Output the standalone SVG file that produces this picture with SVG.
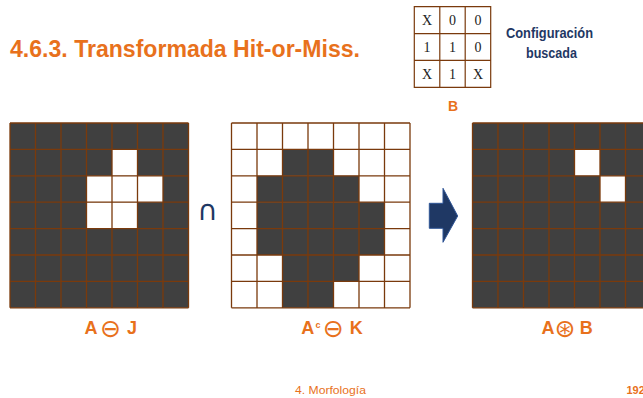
<svg xmlns="http://www.w3.org/2000/svg" xmlns:xlink="http://www.w3.org/1999/xlink" width="643" height="398" viewBox="0 0 643 398">
<style>
.or{fill:#e8711c;font-family:"Liberation Sans",Arial,sans-serif;font-weight:bold}
.nv{fill:#1f3864;font-family:"Liberation Sans",Arial,sans-serif;font-weight:bold}
.sym{font-family:"DejaVu Sans",sans-serif;font-weight:normal;font-size:25px}
.dk{fill:#404040}
.wh{fill:#ffffff}
.gl{fill:none;stroke:#7a3a0c;stroke-width:1.3}
.bt{fill:none;stroke:#7a3a0c;stroke-width:1.2}
.cell{font-family:"Liberation Serif","DejaVu Serif",serif;font-size:14px;fill:#222;text-anchor:middle}
</style>
<defs>
<path id="grid" class="gl" d="M0 0H178.5M0 26.4H178.5M0 52.8H178.5M0 79.2H178.5M0 105.6H178.5M0 132H178.5M0 158.4H178.5M0 184.8H178.5M0 0V184.8M25.5 0V184.8M51 0V184.8M76.5 0V184.8M102 0V184.8M127.5 0V184.8M153 0V184.8M178.5 0V184.8"/>
</defs>
<rect width="643" height="398" fill="#ffffff"/>
<g id="title">
<text class="or" x="10" y="57" font-size="23" textLength="350" lengthAdjust="spacingAndGlyphs">4.6.3. Transformada Hit-or-Miss.</text>
</g>
<g id="config-B">
<rect x="414.3" y="6.7" width="76.4" height="80.6" fill="#fff"/>
<path class="bt" d="M414.3 6.7H490.7V87.3H414.3ZM439.8 6.7V87.3M465.2 6.7V87.3M414.3 33.6H490.7M414.3 60.4H490.7"/>
<text class="cell" y="25"><tspan x="427">X</tspan><tspan x="452.5">0</tspan><tspan x="478">0</tspan></text>
<text class="cell" y="52"><tspan x="427">1</tspan><tspan x="452.5">1</tspan><tspan x="478">0</tspan></text>
<text class="cell" y="79"><tspan x="427">X</tspan><tspan x="452.5">1</tspan><tspan x="478">X</tspan></text>
<text class="or" x="453" y="111" font-size="14" text-anchor="middle">B</text>
<text class="nv" x="549.5" y="38" font-size="14" text-anchor="middle" textLength="87" lengthAdjust="spacingAndGlyphs">Configuración</text>
<text class="nv" x="551.5" y="58" font-size="14" text-anchor="middle" textLength="51" lengthAdjust="spacingAndGlyphs">buscada</text>
</g>
<g id="grid-AJ" transform="translate(10,123)">
<rect class="dk" width="178.5" height="184.8"/>
<rect class="wh" x="102" y="26.4" width="25.5" height="26.4"/>
<rect class="wh" x="76.5" y="52.8" width="76.5" height="26.4"/>
<rect class="wh" x="76.5" y="79.2" width="51" height="26.4"/>
<use xlink:href="#grid"/>
</g>
<g id="label-AJ">
<text class="or" y="334" font-size="18" text-anchor="middle"><tspan x="91">A</tspan><tspan class="sym" x="110.5" y="336.5">⊖</tspan><tspan x="132" y="334">J</tspan></text>
</g>
<g id="op-intersect">
<text x="207.5" y="220" font-family="DejaVu Sans,sans-serif" font-size="28" fill="#1f3864" text-anchor="middle">∩</text>
</g>
<g id="grid-AcK" transform="translate(231.5,123)">
<rect class="wh" width="178.5" height="184.8"/>
<rect class="dk" x="51" y="26.4" width="51" height="26.4"/>
<rect class="dk" x="25.5" y="52.8" width="102" height="26.4"/>
<rect class="dk" x="25.5" y="79.2" width="127.5" height="52.8"/>
<rect class="dk" x="51" y="132" width="76.5" height="26.4"/>
<rect class="dk" x="51" y="158.4" width="51" height="26.4"/>
<use xlink:href="#grid"/>
</g>
<g id="label-AcK">
<text class="or" y="334" font-size="18" text-anchor="middle"><tspan x="307.7">A</tspan><tspan x="318" y="328" font-size="9">c</tspan><tspan class="sym" x="333.3" y="336.5">⊖</tspan><tspan x="356.2" y="334">K</tspan></text>
</g>
<g id="connectors">
<polygon points="429.3,203.3 443,203.3 443,188.3 457.7,216 443,242.3 443,228.3 429.3,228.3" fill="#1f3864" stroke="#2f5597" stroke-width="1"/>
</g>
<g id="grid-result" transform="translate(472.5,123)">
<rect class="dk" width="178.5" height="184.8"/>
<rect class="wh" x="102" y="26.4" width="25.5" height="26.4"/>
<rect class="wh" x="127.5" y="52.8" width="25.5" height="26.4"/>
<use xlink:href="#grid"/>
</g>
<g id="label-result">
<text class="or" y="334" font-size="18" text-anchor="middle"><tspan x="548">A</tspan><tspan class="sym" x="565" y="336.5">⊛</tspan><tspan x="586.2" y="334">B</tspan></text>
</g>
<g id="footer">
<text x="295" y="394" font-family="Liberation Sans,Arial,sans-serif" font-size="11" fill="#e8711c" textLength="71" lengthAdjust="spacingAndGlyphs">4. Morfología</text>
<text class="or" x="626.5" y="394" font-size="11">192</text>
</g>
</svg>
